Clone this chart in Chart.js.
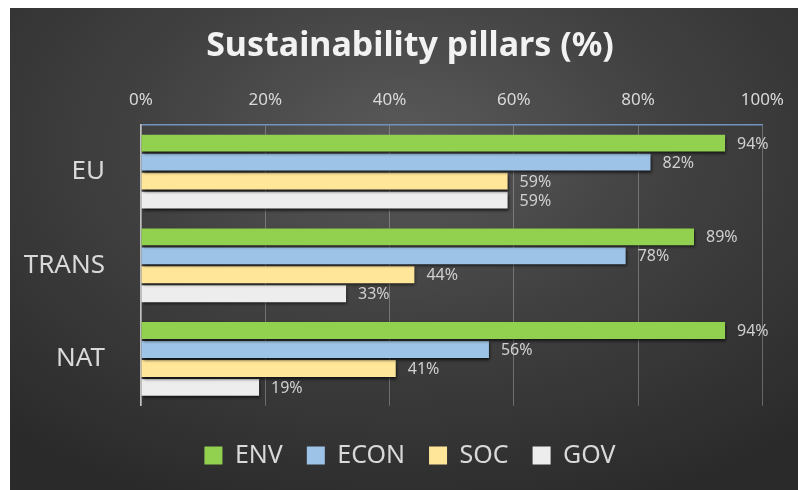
<!DOCTYPE html>
<html>
<head>
<meta charset="utf-8">
<script src="https://cdn.jsdelivr.net/npm/chart.js@4.4.1/dist/chart.umd.min.js"></script>
<style>
  html, body { margin: 0; padding: 0; background: #fff; overflow: hidden; width: 798px; height: 490px; }
  #wrap {
    position: absolute; left: 10px; top: 8px; width: 792px; height: 486px;
    background: radial-gradient(ellipse 75% 80% at 50% 28%, #5a5a5a 0%, #414141 45%, #2a2a2a 100%);
  }
  #chart { display: block; }
</style>
</head>
<body>
<div id="wrap"><canvas id="chart" width="788" height="482"></canvas></div>
<script>
const categories = ['EU', 'TRANS', 'NAT'];
const seriesNames = ['ENV', 'ECON', 'SOC', 'GOV'];
const envValues = [94, 89, 94];
const econValues = [82, 78, 56];
const socValues = [59, 44, 41];
const govValues = [59, 33, 19];
const tickValues = [0, 20, 40, 60, 80, 100];
const colors = ['#92d050', '#9dc3e6', '#ffe699', '#ededed'];

const FONT = "'Noto Sans', 'Open Sans', sans-serif";
const textColor = '#d9d9d9';

// soft drop shadow under each bar
const barShadow = {
  id: 'barShadow',
  beforeDatasetsDraw(chart) {
    const ctx = chart.ctx;
    ctx.save();
    ctx.shadowColor = 'rgba(0,0,0,0.75)';
    ctx.shadowBlur = 3;
    ctx.shadowOffsetX = 1;
    ctx.shadowOffsetY = 2;
  },
  afterDatasetsDraw(chart) {
    chart.ctx.restore();
  }
};

// value labels to the right of every bar
const valueLabels = {
  id: 'valueLabels',
  afterDatasetsDraw(chart) {
    const ctx = chart.ctx;
    ctx.save();
    ctx.font = '16px ' + FONT;
    ctx.fillStyle = '#d0d0d0';
    ctx.textAlign = 'left';
    ctx.textBaseline = 'middle';
    chart.data.datasets.forEach((ds, i) => {
      chart.getDatasetMeta(i).data.forEach((bar, j) => {
        ctx.fillText(ds.data[j] + '%', bar.x + 12, bar.y + 1);
      });
    });
    ctx.restore();
  }
};

const seriesData = [envValues, econValues, socValues, govValues];

new Chart(document.getElementById('chart'), {
  type: 'bar',
  data: {
    labels: categories,
    datasets: seriesNames.map((name, i) => ({
      label: name,
      data: seriesData[i],
      yAxisID: 'y',
      backgroundColor: colors[i],
      borderWidth: 0,
      categoryPercentage: 0.81,
      barPercentage: 0.89
    }))
  },
  options: {
    indexAxis: 'y',
    responsive: false,
    animation: false,
    layout: { padding: { left: 12, right: 0, top: 0, bottom: 12 } },
    plugins: {
      title: {
        display: true,
        text: 'Sustainability pillars (%)',
        color: '#f2f2f2',
        font: { family: FONT, size: 34, weight: 'bold' },
        padding: { top: 18, bottom: 10 }
      },
      legend: {
        position: 'bottom',
        title: { display: true, text: '', font: { size: 1 }, padding: { top: 12, bottom: 0 } },
        labels: {
          color: textColor,
          font: { family: FONT, size: 25 },
          boxWidth: 18,
          boxHeight: 18,
          padding: 24
        }
      },
      tooltip: { enabled: false }
    },
    scales: {
      x: {
        position: 'top',
        min: 0,
        max: 100,
        afterBuildTicks(scale) {
          scale.ticks = tickValues.map(v => ({ value: v }));
        },
        afterFit(scale) { scale.height = 48; },
        ticks: {
          color: textColor,
          font: { family: FONT, size: 17 },
          padding: 14,
          callback: v => v + '%'
        },
        grid: { color: 'rgba(190,190,190,0.4)', lineWidth: 1, drawTicks: false },
        border: { display: true, color: '#7393bb', width: 1.5 }
      },
      y: {
        afterFit(scale) { scale.width = 119; },
        ticks: {
          color: textColor,
          font: { family: FONT, size: 26 },
          padding: 28
        },
        grid: { display: false },
        border: { display: true, color: '#bfbfbf', width: 1.5 }
      },
      // empty strip on the right side of the plot
      y2: {
        type: 'category',
        position: 'right',
        afterFit(scale) { scale.width = 33; },
        ticks: { display: false },
        grid: { display: false },
        border: { display: false }
      }
    }
  },
  plugins: [barShadow, valueLabels]
});
</script>
</body>
</html>
